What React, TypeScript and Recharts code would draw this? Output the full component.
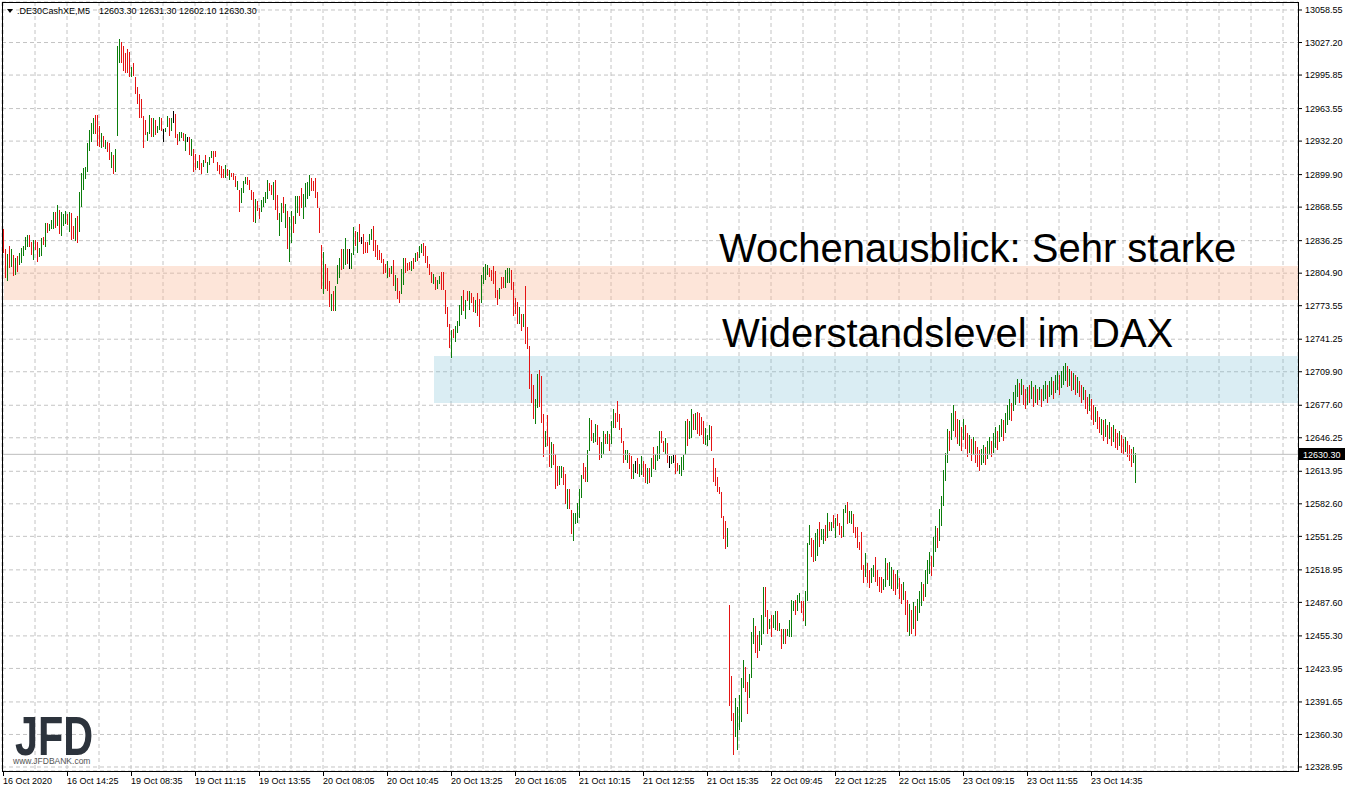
import React from "react";
import {
  ComposedChart,
  Bar,
  XAxis,
  YAxis,
  CartesianGrid,
  ReferenceArea,
  ReferenceLine,
} from "recharts";

const symbol = ".DE30CashXE,M5";
// open, high, low, close of the last bar
const lastQuote = [12603.3, 12631.3, 12602.1, 12630.3];

// one label every 32 bars
const timeLabels = [
  "16 Oct 2020", "16 Oct 14:25", "19 Oct 08:35", "19 Oct 11:15", "19 Oct 13:55",
  "20 Oct 08:05", "20 Oct 10:45", "20 Oct 13:25", "20 Oct 16:05", "21 Oct 10:15",
  "21 Oct 12:55", "21 Oct 15:35", "22 Oct 09:45", "22 Oct 12:25", "22 Oct 15:05",
  "23 Oct 09:15", "23 Oct 11:55", "23 Oct 14:35",
];

const priceTicks = [
  13058.55, 13027.2, 12995.85, 12963.55, 12932.2, 12899.9, 12868.55, 12836.25,
  12804.9, 12773.55, 12741.25, 12709.9, 12677.6, 12646.25, 12613.95, 12582.6,
  12551.25, 12518.95, 12487.6, 12455.3, 12423.95, 12391.65, 12360.3, 12328.95,
];

const barHigh = [
  12847, 12828, 12823, 12831, 12828, 12822, 12820, 12821, 12824, 12829, // 0
  12831, 12840, 12842, 12842, 12835, 12837, 12837, 12835, 12829, 12839,
  12840, 12853, 12853, 12852, 12856, 12864, 12864, 12871, 12866, 12864,
  12862, 12865, 12862, 12864, 12863, 12850, 12858, 12860, 12883, 12901,
  12906, 12907, 12930, 12943, 12950, 12954, 12957, 12957, 12947, 12940, // 40
  12937, 12933, 12931, 12930, 12922, 12919, 12925, 13024, 13031, 13028,
  13024, 13017, 13021, 13018, 13004, 13007, 12994, 12984, 12978, 12973,
  12956, 12953, 12941, 12957, 12954, 12954, 12953, 12947, 12955, 12954,
  12944, 12945, 12956, 12954, 12954, 12961, 12958, 12939, 12941, 12941, // 80
  12940, 12939, 12936, 12936, 12934, 12925, 12920, 12913, 12919, 12911,
  12914, 12919, 12912, 12917, 12923, 12923, 12923, 12912, 12909, 12908,
  12905, 12909, 12905, 12904, 12901, 12901, 12899, 12894, 12885, 12887,
  12894, 12898, 12898, 12895, 12885, 12883, 12876, 12874, 12868, 12875, // 120
  12878, 12883, 12895, 12892, 12890, 12893, 12895, 12880, 12863, 12873,
  12878, 12872, 12865, 12859, 12865, 12860, 12879, 12879, 12879, 12887,
  12881, 12892, 12893, 12900, 12897, 12894, 12897, 12883, 12868, 12832,
  12825, 12814, 12810, 12797, 12785, 12788, 12793, 12813, 12820, 12828, // 160
  12828, 12839, 12828, 12828, 12824, 12849, 12846, 12845, 12852, 12840,
  12843, 12835, 12835, 12843, 12847, 12850, 12837, 12832, 12827, 12824,
  12819, 12814, 12817, 12810, 12812, 12818, 12803, 12800, 12788, 12809,
  12820, 12820, 12815, 12816, 12817, 12820, 12824, 12825, 12831, 12833, // 200
  12834, 12831, 12821, 12814, 12806, 12804, 12801, 12798, 12802, 12806,
  12806, 12789, 12772, 12756, 12750, 12751, 12754, 12759, 12774, 12783,
  12789, 12779, 12788, 12788, 12786, 12782, 12779, 12786, 12780, 12803,
  12811, 12814, 12813, 12810, 12808, 12812, 12807, 12789, 12791, 12801, // 240
  12801, 12808, 12810, 12810, 12808, 12796, 12781, 12777, 12772, 12766,
  12766, 12793, 12753, 12735, 12708, 12697, 12684, 12708, 12712, 12706,
  12669, 12653, 12668, 12647, 12642, 12640, 12631, 12619, 12619, 12619,
  12618, 12611, 12597, 12597, 12577, 12574, 12574, 12583, 12597, 12610, // 280
  12622, 12618, 12634, 12665, 12663, 12651, 12660, 12659, 12647, 12642,
  12653, 12650, 12653, 12650, 12662, 12674, 12670, 12682, 12669, 12656,
  12643, 12634, 12634, 12632, 12629, 12621, 12624, 12627, 12621, 12629,
  12624, 12621, 12617, 12617, 12627, 12637, 12631, 12638, 12653, 12653, // 320
  12643, 12646, 12641, 12629, 12629, 12630, 12630, 12622, 12620, 12628,
  12630, 12662, 12664, 12662, 12674, 12669, 12670, 12671, 12670, 12666,
  12662, 12656, 12649, 12659, 12658, 12627, 12617, 12608, 12599, 12594,
  12571, 12566, 12559, 12485, 12417, 12381, 12395, 12387, 12398, 12415, // 360
  12432, 12425, 12411, 12419, 12459, 12473, 12465, 12456, 12460, 12475,
  12502, 12502, 12480, 12472, 12475, 12475, 12479, 12479, 12468, 12462,
  12462, 12462, 12462, 12471, 12490, 12489, 12490, 12495, 12497, 12489,
  12489, 12499, 12545, 12562, 12550, 12548, 12554, 12558, 12565, 12558, // 400
  12558, 12562, 12574, 12565, 12565, 12572, 12569, 12573, 12564, 12561,
  12578, 12581, 12584, 12576, 12576, 12573, 12560, 12560, 12546, 12555,
  12524, 12535, 12526, 12519, 12521, 12524, 12531, 12519, 12512, 12512,
  12510, 12530, 12526, 12527, 12522, 12519, 12515, 12519, 12511, 12505, // 440
  12507, 12499, 12490, 12486, 12480, 12488, 12484, 12491, 12499, 12507,
  12505, 12519, 12528, 12536, 12532, 12551, 12561, 12559, 12578, 12590,
  12615, 12632, 12655, 12653, 12670, 12678, 12672, 12664, 12663, 12657,
  12664, 12659, 12651, 12649, 12645, 12647, 12643, 12637, 12634, 12635, // 480
  12639, 12637, 12643, 12647, 12643, 12651, 12657, 12653, 12659, 12664,
  12663, 12670, 12678, 12684, 12680, 12690, 12697, 12703, 12699, 12703,
  12697, 12693, 12695, 12697, 12701, 12695, 12697, 12693, 12695, 12693,
  12697, 12701, 12697, 12701, 12705, 12701, 12707, 12711, 12707, 12711, // 520
  12715, 12718, 12715, 12713, 12711, 12709, 12707, 12705, 12701, 12697,
  12695, 12692, 12686, 12688, 12684, 12678, 12676, 12672, 12666, 12664,
  12663, 12664, 12659, 12661, 12657, 12659, 12655, 12651, 12653, 12649,
  12645, 12647, 12643, 12639, 12635, 12637, 12631.3, // 560
];

const barLow = [
  12824, 12800, 12797, 12810, 12811, 12802, 12804, 12806, 12812, 12815, // 0
  12821, 12827, 12830, 12830, 12822, 12818, 12827, 12816, 12820, 12822,
  12832, 12830, 12843, 12845, 12847, 12848, 12849, 12851, 12843, 12841,
  12850, 12852, 12851, 12845, 12837, 12837, 12836, 12834, 12844, 12868,
  12885, 12895, 12902, 12923, 12932, 12939, 12939, 12927, 12927, 12926, // 40
  12926, 12924, 12921, 12914, 12907, 12901, 12903, 12937, 13008, 13008,
  13000, 12998, 12998, 12994, 12994, 12994, 12978, 12968, 12955, 12955,
  12925, 12939, 12932, 12939, 12936, 12936, 12939, 12940, 12942, 12941,
  12931, 12941, 12945, 12937, 12941, 12949, 12935, 12928, 12932, 12935, // 80
  12932, 12923, 12931, 12919, 12918, 12903, 12905, 12906, 12905, 12900,
  12907, 12911, 12901, 12909, 12916, 12911, 12917, 12903, 12900, 12896,
  12896, 12896, 12898, 12894, 12897, 12894, 12888, 12885, 12864, 12873,
  12882, 12891, 12890, 12885, 12875, 12854, 12853, 12864, 12857, 12863, // 120
  12868, 12872, 12877, 12884, 12880, 12876, 12866, 12856, 12841, 12855,
  12863, 12849, 12828, 12816, 12834, 12844, 12852, 12863, 12860, 12868,
  12857, 12869, 12877, 12880, 12884, 12884, 12878, 12868, 12844, 12790,
  12785, 12790, 12788, 12772, 12769, 12769, 12769, 12795, 12801, 12808, // 160
  12809, 12813, 12814, 12809, 12809, 12822, 12832, 12825, 12835, 12833,
  12824, 12824, 12824, 12832, 12836, 12826, 12821, 12818, 12817, 12814,
  12805, 12805, 12801, 12801, 12804, 12793, 12788, 12780, 12776, 12785,
  12794, 12806, 12807, 12808, 12807, 12809, 12815, 12816, 12819, 12824, // 200
  12821, 12815, 12809, 12803, 12795, 12794, 12788, 12789, 12794, 12789,
  12789, 12766, 12753, 12733, 12723, 12742, 12739, 12747, 12754, 12765,
  12769, 12761, 12778, 12770, 12776, 12768, 12766, 12764, 12753, 12776,
  12795, 12799, 12803, 12801, 12797, 12795, 12781, 12775, 12780, 12789, // 240
  12790, 12791, 12796, 12796, 12789, 12763, 12766, 12756, 12756, 12750,
  12753, 12737, 12732, 12694, 12680, 12664, 12660, 12675, 12676, 12661,
  12628, 12638, 12638, 12618, 12617, 12620, 12597, 12600, 12601, 12607,
  12601, 12582, 12578, 12578, 12554, 12547, 12563, 12564, 12569, 12588, // 280
  12607, 12604, 12603, 12633, 12643, 12641, 12643, 12640, 12625, 12627,
  12631, 12640, 12640, 12634, 12640, 12656, 12656, 12662, 12654, 12642,
  12622, 12624, 12621, 12617, 12607, 12607, 12612, 12612, 12608, 12611,
  12609, 12603, 12602, 12603, 12609, 12616, 12616, 12624, 12626, 12641, // 320
  12632, 12631, 12622, 12617, 12621, 12622, 12612, 12614, 12611, 12610,
  12616, 12629, 12638, 12645, 12646, 12654, 12654, 12650, 12648, 12649,
  12640, 12640, 12638, 12645, 12634, 12604, 12600, 12594, 12592, 12569,
  12549, 12539, 12541, 12388, 12374, 12341, 12357, 12346, 12364, 12373, // 360
  12405, 12401, 12380, 12396, 12415, 12448, 12439, 12434, 12441, 12446,
  12457, 12473, 12457, 12462, 12454, 12462, 12461, 12460, 12460, 12443,
  12448, 12448, 12455, 12455, 12454, 12479, 12476, 12480, 12487, 12477,
  12470, 12465, 12489, 12543, 12532, 12527, 12527, 12532, 12541, 12547, // 400
  12544, 12547, 12550, 12556, 12556, 12559, 12550, 12561, 12552, 12549,
  12551, 12573, 12563, 12564, 12563, 12555, 12549, 12540, 12538, 12518,
  12507, 12512, 12507, 12502, 12507, 12512, 12507, 12504, 12498, 12497,
  12499, 12502, 12510, 12504, 12501, 12499, 12495, 12501, 12491, 12486, // 440
  12490, 12476, 12459, 12455, 12457, 12462, 12455, 12470, 12478, 12484,
  12489, 12493, 12505, 12515, 12513, 12522, 12536, 12540, 12547, 12561,
  12580, 12605, 12622, 12634, 12644, 12653, 12647, 12640, 12638, 12634,
  12644, 12636, 12628, 12632, 12624, 12630, 12622, 12618, 12614, 12620, // 480
  12622, 12620, 12626, 12630, 12628, 12632, 12637, 12635, 12643, 12647,
  12643, 12651, 12659, 12664, 12663, 12672, 12678, 12686, 12680, 12688,
  12678, 12674, 12678, 12680, 12684, 12676, 12680, 12678, 12682, 12676,
  12682, 12684, 12680, 12686, 12688, 12684, 12690, 12693, 12688, 12695, // 520
  12697, 12701, 12695, 12697, 12692, 12693, 12688, 12690, 12686, 12680,
  12682, 12674, 12670, 12672, 12664, 12659, 12662, 12655, 12651, 12649,
  12643, 12647, 12641, 12645, 12639, 12643, 12637, 12635, 12639, 12632,
  12630, 12633, 12628, 12624, 12618, 12622, 12602.1, // 560
];

// u = up bar, d = down bar, n = unchanged; 10 bars per row
const barDirRows = [
  "ddudu duduu", "uuudd udduu", "duduu ududu", "uudud duduu", // 0
  "uuuuu udddu", "duddu duuud", "ddddu ddddd", "dduud uduud", // 40
  "nuudu ndduu", "dundu ddudd", "uduuu ddddd", "dudud ddudu", // 80
  "uuddd duddu", "uuudd udduu", "duduu duudd", "uuuud ddddd", // 120
  "udddu duuud", "uudnu ududn", "ddduu ddddd", "ddudu duddu", // 160
  "udddu duduu", "ddddd uduud", "ddddu duuuu", "dudud duddu", // 200
  "uuudd dddud", "duuud dddud", "udddd duudd", "duddu ddduu", // 240
  "ddudd uuuuu", "dduud uuddu", "ududu udddd", "duudd unduu", // 280
  "ddudu duuud", "dudnu ndduu", "uuduu duddd", "duuud ddddd", // 320
  "ddudd duuuu", "udduu udduu", "uddud uudud", "uduuu uduud", // 360
  "duuud duudu", "ududu duddd", "uuduu ddddd", "duddu udddd", // 400
  "uuduu ddudd", "uddud uduuu", "duuud uuduu", "uuudu uddud", // 440
  "uddud udddu", "uduud uuduu", "duuud uuudu", "ddudu dudud", // 480
  "uuduu duudu", "uudud ududd", "uddud duddu", "dudud uddud", // 520
  "duddd uu", // 560
];
const barDir = barDirRows.join("").replace(/\s/g, "");

const resistanceBand = [12779.1, 12811.8];
const upperBand = [12679.8, 12725.1];

const SLOTS = 648; // chart shift: empty space right of the last bar
const GRID_STEP = 16;
const LABEL_STEP = 32;

const rows = Array.from({ length: SLOTS }, (_, i) => ({
  i,
  range: i < barHigh.length ? [barLow[i], barHigh[i]] : null,
  dir: barDir[i] || "n",
}));

const gridTicks = rows.filter((r) => r.i % GRID_STEP === 0).map((r) => r.i);

const barColors: Record<string, string> = {
  u: "#0b7d0b",
  d: "#e41414",
  n: "#000000",
};

function Stick(props: any) {
  const { x, y, width, height, payload } = props;
  if (!payload || !payload.range) return null;
  const top = Math.min(y, y + height);
  const h = Math.max(1, Math.round(Math.abs(height)));
  return (
    <rect
      x={Math.floor(x + width / 2)}
      y={Math.round(top)}
      width={1}
      height={h}
      fill={barColors[payload.dir]}
      shapeRendering="crispEdges"
    />
  );
}

function TimeTick(props: any) {
  const { x, y, payload } = props;
  const idx = payload.value;
  if (idx % LABEL_STEP !== 0) return null;
  const label = timeLabels[idx / LABEL_STEP];
  if (!label) return null;
  const px = Math.floor(x) + 0.5;
  return (
    <g>
      <line x1={px} x2={px} y1={y} y2={y + 5} stroke="#000" />
      <text x={Math.floor(x)} y={y + 13} fontSize={9} fill="#000">
        {label}
      </text>
    </g>
  );
}

function PriceTag(props: any) {
  const vb = props.viewBox;
  if (!vb) return null;
  const x = vb.x + vb.width + 1;
  const y = Math.round(vb.y);
  return (
    <g>
      <rect x={x} y={y - 6} width={46} height={12} fill="#000" />
      <text x={x + 4} y={y + 3.5} fontSize={9} fill="#fff">
        {lastQuote[3].toFixed(2)}
      </text>
    </g>
  );
}

export default function App() {
  return (
    <div
      style={{
        position: "absolute",
        left: 0,
        top: 0,
        width: 1350,
        height: 792,
        background: "#fff",
        fontFamily: "'Liberation Sans', Arial, sans-serif",
      }}
    >
      <ComposedChart
        width={1350}
        height={792}
        data={rows}
        margin={{ top: 2, right: 0, bottom: 0, left: 2 }}
        barCategoryGap={0}
      >
        <CartesianGrid stroke="#c4c4c4" strokeDasharray="4 3" />
        <XAxis
          dataKey="i"
          type="category"
          ticks={gridTicks}
          interval={0}
          height={21}
          axisLine={false}
          tickLine={false}
          tickSize={0}
          tickMargin={0}
          tick={<TimeTick />}
        />
        <YAxis
          orientation="right"
          type="number"
          domain={[12325.09, 13066.26]}
          allowDataOverflow
          ticks={priceTicks}
          interval={0}
          width={52}
          axisLine={false}
          tickLine={{ stroke: "#000" }}
          tickSize={4}
          tickMargin={3}
          tick={{ fill: "#000", fontSize: 9 }}
          tickFormatter={(v: number) => v.toFixed(2)}
        />
        <ReferenceArea
          x1={1}
          x2={SLOTS - 1}
          y1={resistanceBand[0]}
          y2={resistanceBand[1]}
          fill="#f9b592"
          fillOpacity={0.35}
          stroke="none"
        />
        <ReferenceArea
          x1={216}
          x2={SLOTS - 1}
          y1={upperBand[0]}
          y2={upperBand[1]}
          fill="#6bb7cf"
          fillOpacity={0.25}
          stroke="none"
        />
        <ReferenceLine
          y={lastQuote[3]}
          stroke="#bdbdbd"
          label={<PriceTag />}
        />
        <Bar
          dataKey="range"
          barSize={1}
          isAnimationActive={false}
          shape={<Stick />}
        />
      </ComposedChart>
      <svg
        width={1350}
        height={792}
        style={{ position: "absolute", left: 0, top: 0, pointerEvents: "none" }}
      >
        <rect x={2.5} y={2.5} width={1296} height={769} fill="none" stroke="#000" />
        <polygon points="7,9 13,9 10,13" fill="#000" />
        <text x={17} y={14} fontSize={9} fill="#000">
          {symbol}
        </text>
        <text x={99} y={14} fontSize={9} fill="#000">
          {lastQuote.map((v) => v.toFixed(2)).join(" ")}
        </text>
        <text x={719} y={262} fontSize={40} fill="#000">
          Wochenausblick: Sehr starke
        </text>
        <text x={722} y={347} fontSize={40} fill="#000">
          Widerstandslevel im DAX
        </text>
        <text
          transform="translate(15,755) scale(0.74,1)"
          fontSize={56}
          fontWeight={700}
          fill="#2c333c"
        >
          JFD
        </text>
        <text x={13} y={764} fontSize={8.5} fill="#555">
          www.JFDBANK.com
        </text>
      </svg>
    </div>
  );
}
